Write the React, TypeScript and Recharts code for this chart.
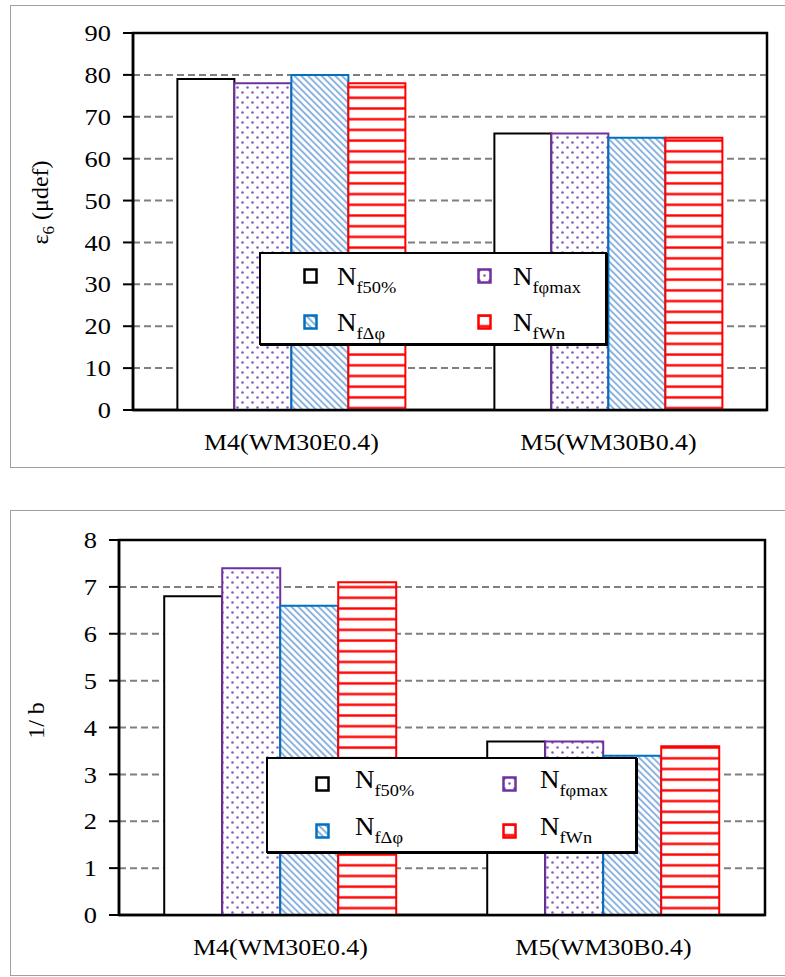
import React from 'react';
import { BarChart, Bar, XAxis, YAxis, CartesianGrid, Legend, ReferenceArea } from 'recharts';

const FONT = '"Liberation Serif", "Times New Roman", serif';

const categories = ['M4(WM30E0.4)', 'M5(WM30B0.4)'];

// top chart: ε6 (μdef)
const strainNf50 = [79, 66];
const strainNfPhiMax = [78, 66];
const strainNfDeltaPhi = [80, 65];
const strainNfWn = [78, 65];
const strainTicks = [0, 10, 20, 30, 40, 50, 60, 70, 80, 90];

// bottom chart: 1/b
const invbNf50 = [6.8, 3.7];
const invbNfPhiMax = [7.4, 3.7];
const invbNfDeltaPhi = [6.6, 3.4];
const invbNfWn = [7.1, 3.6];
const invbTicks = [0, 1, 2, 3, 4, 5, 6, 7, 8];

const seriesDefs = [
  { key: 'nf50', sub: 'f50%', fill: '#ffffff', stroke: '#000000' },
  { key: 'nfphimax', sub: 'fφmax', fill: 'url(#patDots)', stroke: '#7030a0' },
  { key: 'nfdphi', sub: 'fΔφ', fill: 'url(#patDiag)', stroke: '#0070c0' },
  { key: 'nfwn', sub: 'fWn', fill: 'url(#patHoriz)', stroke: '#ff0000' },
];

const strainData = categories.map((c, i) => ({
  name: c,
  nf50: strainNf50[i],
  nfphimax: strainNfPhiMax[i],
  nfdphi: strainNfDeltaPhi[i],
  nfwn: strainNfWn[i],
}));

const invbData = categories.map((c, i) => ({
  name: c,
  nf50: invbNf50[i],
  nfphimax: invbNfPhiMax[i],
  nfdphi: invbNfDeltaPhi[i],
  nfwn: invbNfWn[i],
}));

const YTick = (props: any) => {
  const { x, y, payload } = props;
  return (
    <g transform={`translate(${x},${y})`}>
      <text transform="scale(1.1,1)" textAnchor="end" dy="0.34em" fontFamily={FONT} fontSize={24} fill="#000">
        {payload.value}
      </text>
    </g>
  );
};

const XTick = (props: any) => {
  const { x, y, payload } = props;
  return (
    <g transform={`translate(${x},${y})`}>
      <text transform="scale(1.08,1)" textAnchor="middle" y={40} fontFamily={FONT} fontSize={24} fill="#000">
        {payload.value}
      </text>
    </g>
  );
};

type LegendCfg = {
  width: number;
  height: number;
  colX: number[];
  textX: number[];
  rowY: number[];
  textDy: number;
};

const makeLegend = (cfg: LegendCfg) => () => (
  <div
    style={{
      position: 'relative',
      width: cfg.width,
      height: cfg.height,
      boxSizing: 'border-box',
      border: '2px solid #000',
      background: '#fff',
      fontFamily: FONT,
      boxShadow: '1px 1px 0 #000',
    }}
  >
    {seriesDefs.map((s, i) => {
      const col = i % 2;
      const row = Math.floor(i / 2);
      return (
        <React.Fragment key={s.key}>
          <svg
            width={16}
            height={16}
            style={{ position: 'absolute', left: cfg.colX[col] - 2, top: cfg.rowY[row] - 2 }}
          >
            <rect x={1.5} y={1.5} width={12} height={13} fill={s.fill} stroke={s.stroke} strokeWidth={2.5} />
          </svg>
          <div
            style={{
              position: 'absolute',
              left: cfg.textX[col] - 2,
              top: cfg.rowY[row] - 2 + cfg.textDy,
              fontSize: 25,
              lineHeight: '24px',
              whiteSpace: 'nowrap',
              color: '#000',
              transform: 'scaleX(1.08)',
              transformOrigin: 'left center',
            }}
          >
            N<span style={{ fontSize: 17, verticalAlign: '-8px' }}>{s.sub}</span>
          </div>
        </React.Fragment>
      );
    })}
  </div>
);

const topLegend = makeLegend({
  width: 348,
  height: 93,
  colX: [44, 218],
  textX: [78, 254],
  rowY: [16, 62],
  textDy: -3,
});

const bottomLegend = makeLegend({
  width: 371,
  height: 96,
  colX: [49, 236],
  textX: [89, 274],
  rowY: [19, 66],
  textDy: -8,
});

const Patterns = () => (
  <svg width={0} height={0} style={{ position: 'absolute', left: 0, top: 0 }}>
    <defs>
      <pattern id="patDots" width={10} height={10} patternUnits="userSpaceOnUse">
        <rect width={10} height={10} fill="#ffffff" />
        <circle cx={2.5} cy={2.5} r={1.3} fill="#8a58c4" />
        <circle cx={7.5} cy={7.5} r={1.3} fill="#8a58c4" />
      </pattern>
      <pattern id="patDiag" width={4.8} height={4.8} patternUnits="userSpaceOnUse" patternTransform="rotate(-45)">
        <rect width={4.8} height={4.8} fill="#ffffff" />
        <rect x={0} y={0} width={2} height={4.8} fill="#8db3df" />
      </pattern>
      <pattern id="patHoriz" width={10} height={10.7} patternUnits="userSpaceOnUse">
        <rect width={10} height={10.7} fill="#ffffff" />
        <rect x={0} y={0} width={10} height={3} fill="#ff9a9a" />
        <rect x={0} y={0.5} width={10} height={2} fill="#ff0000" />
      </pattern>
    </defs>
  </svg>
);

const YLabelStrain = (props: any) => {
  const { viewBox } = props;
  const cx = viewBox.x - 33;
  const cy = viewBox.y + viewBox.height / 2 - 19;
  return (
    <text
      x={cx}
      y={cy}
      transform={`rotate(-90, ${cx}, ${cy})`}
      textAnchor="middle"
      dy="0.35em"
      fontFamily={FONT}
      fontSize={24}
      fill="#000"
    >
      ε<tspan fontSize={17} dy={6}>6</tspan>
      <tspan dy={-6}> (μdef)</tspan>
    </text>
  );
};

const YLabelInvb = (props: any) => {
  const { viewBox } = props;
  const cx = viewBox.x - 23;
  const cy = viewBox.y + viewBox.height / 2 - 7;
  return (
    <text
      x={cx}
      y={cy}
      transform={`rotate(-90, ${cx}, ${cy})`}
      textAnchor="middle"
      dy="0.35em"
      fontFamily={FONT}
      fontSize={24}
      fill="#000"
    >
      1/ b
    </text>
  );
};

const renderBars = () =>
  seriesDefs.map((s) => (
    <Bar
      key={s.key}
      dataKey={s.key}
      fill={s.fill}
      stroke={s.stroke}
      strokeWidth={2}
      isAnimationActive={false}
    />
  ));

export default function App() {
  return (
    <div style={{ position: 'absolute', left: 0, top: 0, width: 785, height: 977, overflow: 'hidden', background: '#fff' }}>
      <Patterns />
      <div
        style={{
          position: 'absolute',
          left: 10,
          top: 5,
          width: 800,
          height: 463,
          boxSizing: 'border-box',
          border: '1.5px solid #a0a0a0',
        }}
      />
      <div
        style={{
          position: 'absolute',
          left: 10,
          top: 510,
          width: 800,
          height: 466,
          boxSizing: 'border-box',
          border: '1.5px solid #a0a0a0',
        }}
      />

      <div style={{ position: 'absolute', left: 0, top: 0 }}>
        <BarChart
          width={785}
          height={470}
          data={strainData}
          margin={{ top: 33, right: 18, bottom: 0, left: 73 }}
          barCategoryGap="14%"
          barGap={0}
        >
          <CartesianGrid vertical={false} stroke="#7f7f7f" strokeWidth={2} strokeDasharray="7 4" />
          <XAxis
            dataKey="name"
            axisLine={{ stroke: '#000', strokeWidth: 2.5 }}
            tickLine={false}
            tickSize={0}
            tickMargin={0}
            height={60}
            tick={<XTick />}
            interval={0}
          />
          <YAxis
            domain={[0, 90]}
            ticks={strainTicks}
            interval={0}
            width={60}
            axisLine={{ stroke: '#000', strokeWidth: 2.5 }}
            tickLine={{ stroke: '#000', strokeWidth: 2 }}
            tickSize={10}
            tickMargin={12}
            tick={<YTick />}
            label={<YLabelStrain />}
          />
          {renderBars()}
          <ReferenceArea y1={0} y2={90} fill="none" fillOpacity={0} stroke="#000" strokeWidth={2.5} ifOverflow="visible" />
          <Legend
            layout="horizontal"
            verticalAlign="middle"
            align="center"
            content={topLegend}
            wrapperStyle={{ left: 259, top: 252, width: 348, height: 93 }}
          />
        </BarChart>
      </div>

      <div style={{ position: 'absolute', left: 0, top: 500 }}>
        <BarChart
          width={785}
          height={477}
          data={invbData}
          margin={{ top: 40, right: 20, bottom: 2, left: 59 }}
          barCategoryGap="14%"
          barGap={0}
        >
          <CartesianGrid vertical={false} stroke="#7f7f7f" strokeWidth={2} strokeDasharray="7 4" />
          <XAxis
            dataKey="name"
            axisLine={{ stroke: '#000', strokeWidth: 2.5 }}
            tickLine={false}
            tickSize={0}
            tickMargin={0}
            height={60}
            tick={<XTick />}
            interval={0}
          />
          <YAxis
            domain={[0, 8]}
            ticks={invbTicks}
            interval={0}
            width={60}
            axisLine={{ stroke: '#000', strokeWidth: 2.5 }}
            tickLine={{ stroke: '#000', strokeWidth: 2 }}
            tickSize={10}
            tickMargin={12}
            tick={<YTick />}
            label={<YLabelInvb />}
          />
          {renderBars()}
          <ReferenceArea y1={0} y2={8} fill="none" fillOpacity={0} stroke="#000" strokeWidth={2.5} ifOverflow="visible" />
          <Legend
            layout="horizontal"
            verticalAlign="middle"
            align="center"
            content={bottomLegend}
            wrapperStyle={{ left: 266, top: 257, width: 371, height: 96 }}
          />
        </BarChart>
      </div>
    </div>
  );
}
